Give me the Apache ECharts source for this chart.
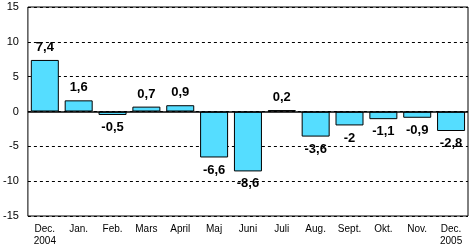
<!DOCTYPE html>
<html>
<head>
<meta charset="utf-8">
<script src="https://cdn.jsdelivr.net/npm/echarts@6/dist/echarts.min.js"></script>
<style>html,body{margin:0;padding:0;background:#fff}#c{width:471px;height:247px}</style>
</head>
<body>
<div id="c"></div>
<script>
var categories = ['Dec.\n2004','Jan.','Feb.','Mars','April','Maj','Juni','Juli','Aug.','Sept.','Okt.','Nov.','Dec.\n2005'];
var values = [7.4, 1.6, -0.5, 0.7, 0.9, -6.6, -8.6, 0.2, -3.6, -2, -1.1, -0.9, -2.8];
var yTicks = [-15, -10, -5, 0, 5, 10, 15];

var chart = echarts.init(document.getElementById('c'), null, {renderer: 'canvas'});
var data = values.map(function (v) {
  return {value: v, label: {position: v >= 0 ? 'top' : 'bottom'}};
});
chart.setOption({
  animation: false,
  grid: {left: 26, right: 3, top: 7, bottom: 30, show: true, borderColor: '#000', borderWidth: 1},
  xAxis: {
    type: 'category', data: categories,
    axisLine: {show: false, onZero: false},
    axisTick: {show: false},
    axisLabel: {color: '#000', fontSize: 10, fontFamily: 'Liberation Sans, Arial', margin: 7, lineHeight: 12, interval: 0}
  },
  yAxis: {
    type: 'value', min: yTicks[0], max: yTicks[yTicks.length - 1], interval: 5,
    axisLine: {show: false}, axisTick: {show: false},
    axisLabel: {color: '#000', fontSize: 11, fontFamily: 'Liberation Sans, Arial', margin: 9},
    splitLine: {show: true, lineStyle: {color: '#000', type: [3, 3], width: 1}}
  },
  series: [{
    type: 'bar', data: data, barWidth: 28,
    itemStyle: {color: '#55DDFF', borderColor: '#000', borderWidth: 1},
    label: {
      show: true, color: '#000', fontSize: 13, fontWeight: 'bold',
      fontFamily: 'Liberation Sans Narrow, Arial Narrow, Liberation Sans',
      distance: 6,
      formatter: function (p) { return String(p.value).replace('.', ','); }
    },
    markLine: {
      silent: true, symbol: 'none', label: {show: false},
      lineStyle: {color: '#000', type: 'solid', width: 1.5},
      data: [{yAxis: 0}]
    }
  }]
});
</script>
</body>
</html>
